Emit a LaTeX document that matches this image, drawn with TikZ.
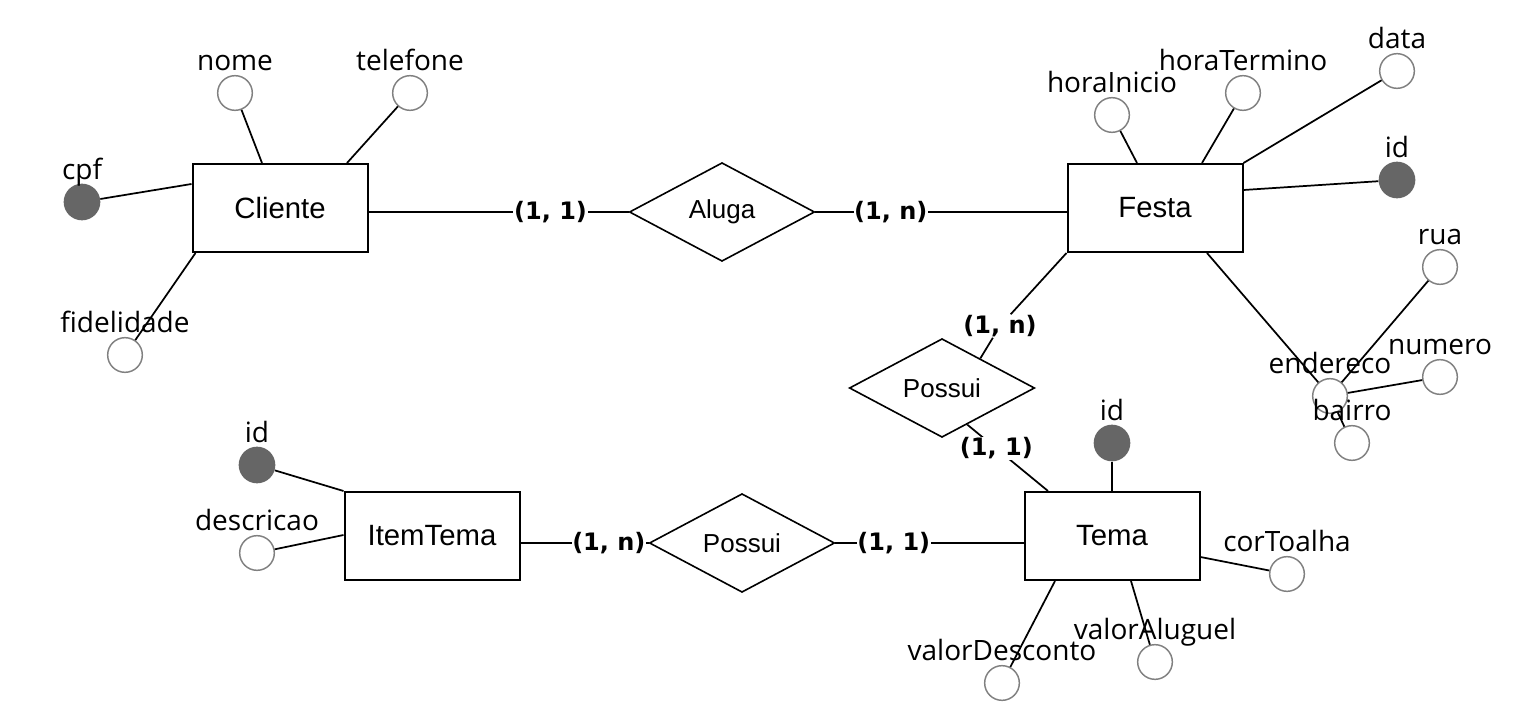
\documentclass[tikz,border=0pt]{standalone}
\usepackage{fontspec}
\setmainfont{Liberation Sans}
\newfontfamily\attrfont{Open Sans}
\newfontfamily\cardfont{DejaVu Sans}
\usetikzlibrary{shapes.geometric,calc}
\definecolor{keyfill}{HTML}{666666}
\definecolor{attrline}{HTML}{808080}
\begin{document}
\begin{tikzpicture}[x=0.75pt,y=-0.75pt,
  entity/.style={draw, line width=1.5pt, minimum width=131.25pt, minimum height=66pt, inner sep=0pt, font=\fontsize{22}{26}\selectfont},
  rel/.style={diamond, draw, line width=1.2pt, minimum width=139pt, minimum height=74pt, inner sep=0pt, font=\fontsize{19.5}{23}\selectfont},
  attr/.style={circle, draw=attrline, line width=1.1pt, fill=white, minimum size=26pt, inner sep=0pt},
  keyattr/.style={circle, fill=keyfill, minimum size=27.5pt, inner sep=0pt},
  lbl/.style={font=\attrfont\fontsize{21}{25}\selectfont, anchor=base, inner sep=0pt},
  card/.style={font=\cardfont\fontsize{18}{21}\selectfont\bfseries, fill=white, inner sep=0.5pt},
  conn/.style={line width=1.3pt}
]
\useasboundingbox (0,0) rectangle (1527,702);

% entities
\node[entity] (cliente) at (280,208) {Cliente};
\node[entity] (festa) at (1155,208) {Festa};
\node[entity] (tema) at (1112,536) {Tema};
\node[entity] (itemtema) at (432,536) {ItemTema};

% relationships
\node[rel] (aluga) at (722,212) {Aluga};
\node[rel] (possui1) at (942,388) {Possui};
\node[rel] (possui2) at (742,543) {Possui};

% attribute circles
\node[attr] (nome) at (235,93) {};
\node[attr] (telefone) at (410,93) {};
\node[keyattr] (cpf) at (82,202) {};
\node[attr] (fidelidade) at (125,355) {};

\node[attr] (horainicio) at (1112,115) {};
\node[attr] (horatermino) at (1243,93) {};
\node[attr] (data) at (1397,71) {};
\node[keyattr] (festaid) at (1397,180) {};
\node[attr] (endereco) at (1330,396) {};
\node[attr] (rua) at (1440,267) {};
\node[attr] (numero) at (1440,377) {};
\node[attr] (bairro) at (1352,443) {};

\node[keyattr] (temaid) at (1112,443) {};
\node[attr] (cortoalha) at (1287,574) {};
\node[attr] (valoraluguel) at (1155,662) {};
\node[attr] (valordesconto) at (1002,683) {};

\node[keyattr] (itemid) at (257,465) {};
\node[attr] (descricao) at (257,553) {};

% attribute connectors
\draw[conn] (nome) -- ($(cliente.north)+(-18,0)$);
\draw[conn] (telefone) -- ($(cliente.north)+(67,0)$);
\draw[conn] (cpf) -- ($(cliente.west)+(0,-24)$);
\draw[conn] (fidelidade) -- ($(cliente.south west)+(4,0)$);

\draw[conn] (horainicio) -- ($(festa.north)+(-18,0)$);
\draw[conn] (horatermino) -- ($(festa.north)+(47,0)$);
\draw[conn] (data) -- (festa.north east);
\draw[conn] (festaid) -- ($(festa.east)+(0,-18)$);
\draw[conn] ($(festa.south)+(52,0)$) -- (endereco);
\draw[conn] (endereco) -- (rua);
\draw[conn] (endereco) -- (numero);
\draw[conn] (endereco) -- (bairro);

\draw[conn] (temaid) -- (tema.north);
\draw[conn] (cortoalha) -- ($(tema.east)+(0,21)$);
\draw[conn] (valoraluguel) -- ($(tema.south)+(19,0)$);
\draw[conn] (valordesconto) -- ($(tema.south)+(-57,0)$);

\draw[conn] (itemid) -- (itemtema.north west);
\draw[conn] (descricao) -- ($(itemtema.west)+(0,-1)$);

% relationship connectors with cardinalities
\draw[conn] (cliente.east |- aluga.west) -- node[card, pos=0.7] (c1) {(1, 1)} (aluga.west);
\draw[conn] (aluga.east) -- node[card, pos=0.30] (c2) {(1, n)} (festa.west |- aluga.east);
\node[card] (c3) at (1000,326) {(1, n)};
\draw[conn] (festa.south west) -- (c3);
\draw[conn] (c3) -- ($(possui1.north)!0.41!(possui1.east)$);
\draw[conn] ($(possui1.south)!0.27!(possui1.east)$) -- node[card, pos=0.36] (c4) {(1, 1)} ($(tema.north)+(-64,0)$);
\draw[conn] (possui2.east) -- node[card, pos=0.31] (c5) {(1, 1)} (tema.west |- possui2.east);
\draw[conn] (itemtema.east |- possui2.west) -- node[card, pos=0.69] (c6) {(1, n)} (possui2.west);

% attribute labels
\node[lbl] (nomeL) at ($(nome.north)+(0,-4)$) {nome};
\node[lbl] (telefoneL) at ($(telefone.north)+(0,-4)$) {telefone};
\node[lbl] (cpfL) at ($(cpf.north)+(0,-4)$) {cpf};
\node[lbl] (fidelidadeL) at ($(fidelidade.north)+(0,-4)$) {fidelidade};
\node[lbl] (horainicioL) at ($(horainicio.north)+(0,-4)$) {horaInicio};
\node[lbl] (horaterminoL) at ($(horatermino.north)+(0,-4)$) {horaTermino};
\node[lbl] (dataL) at ($(data.north)+(0,-4)$) {data};
\node[lbl] (festaidL) at ($(festaid.north)+(0,-4)$) {id};
\node[lbl] (enderecoL) at ($(endereco.north)+(0,-4)$) {endereco};
\node[lbl] (ruaL) at ($(rua.north)+(0,-4)$) {rua};
\node[lbl] (numeroL) at ($(numero.north)+(0,-4)$) {numero};
\node[lbl] (bairroL) at ($(bairro.north)+(0,-4)$) {bairro};
\node[lbl] (temaidL) at ($(temaid.north)+(0,-4)$) {id};
\node[lbl] (cortoalhaL) at ($(cortoalha.north)+(0,-4)$) {corToalha};
\node[lbl] (valoraluguelL) at ($(valoraluguel.north)+(0,-4)$) {valorAluguel};
\node[lbl] (valordescontoL) at ($(valordesconto.north)+(0,-4)$) {valorDesconto};
\node[lbl] (itemidL) at ($(itemid.north)+(0,-4)$) {id};
\node[lbl] (descricaoL) at ($(descricao.north)+(0,-4)$) {descricao};
\end{tikzpicture}
\end{document}
